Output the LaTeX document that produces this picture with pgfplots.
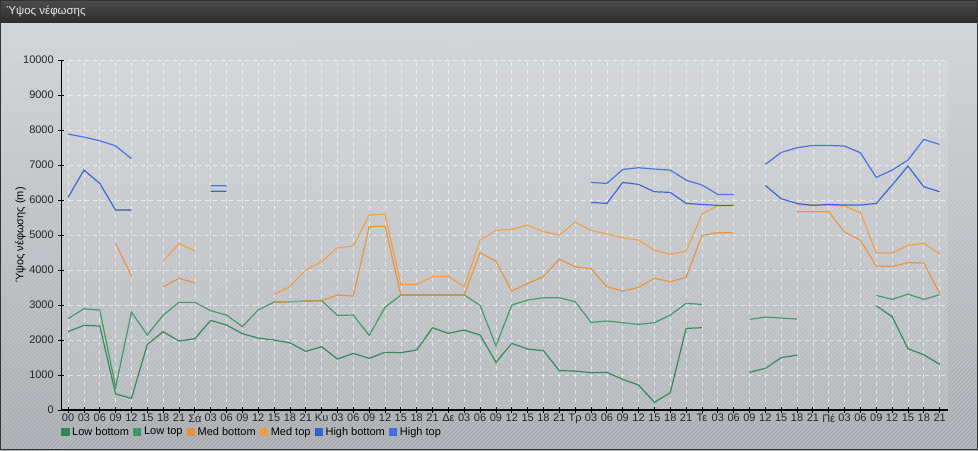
\documentclass[border=0pt]{standalone}
\usepackage{fontspec}
\setmainfont{Liberation Sans}
\usepackage{pgfplots}
\pgfplotsset{compat=1.18}
\usepackage{pgfplotstable}
\usetikzlibrary{patterns}

\definecolor{lowb}{RGB}{30,130,70}
\definecolor{lowt}{RGB}{45,150,90}
\definecolor{medb}{RGB}{240,140,40}
\definecolor{medt}{RGB}{247,152,52}
\definecolor{highb}{RGB}{35,85,215}
\definecolor{hight}{RGB}{50,100,235}
\definecolor{bgtop}{RGB}{208,211,215}
\definecolor{bgbot}{RGB}{168,172,177}

% cloud heights, one row per 3 h step (nan = no layer)
\pgfplotstableread{
i lb lt mb mt hb ht
0 2240 2610 nan nan 6076 7886
1 2420 2895 nan nan 6857 7800
2 2400 2857 nan nan 6476 7695
3 460 650 4762 5714 5714 7550
4 333 2800 3829 5714 5714 7180
5 1876 2143 nan nan nan nan
6 2238 2714 3524 4250 nan nan
7 1971 3076 3762 4760 nan nan
8 2038 3076 3629 4540 nan nan
9 2562 2838 nan nan 6250 6410
10 2428 2714 nan nan 6250 6410
11 2181 2381 nan nan nan nan
12 2057 2860 nan nan nan nan
13 2000 3086 3086 3305 nan nan
14 1920 3095 3095 3524 nan nan
15 1676 3114 3114 4000 nan nan
16 1810 3124 3124 4238 nan nan
17 1457 2705 3286 4638 nan nan
18 1619 2714 3257 4686 nan nan
19 1476 2133 5238 5571 nan nan
20 1648 2933 5257 5600 nan nan
21 1638 3286 3286 3590 nan nan
22 1714 3286 3286 3590 nan nan
23 2352 3286 3286 3810 nan nan
24 2190 3286 3286 3819 nan nan
25 2286 3286 3286 3524 nan nan
26 2143 2990 4495 4857 nan nan
27 1365 1835 4250 5133 nan nan
28 1905 3000 3400 5162 nan nan
29 1743 3143 3619 5286 nan nan
30 1695 3210 3810 5095 nan nan
31 1124 3210 4314 5000 nan nan
32 1114 3095 4095 5371 nan nan
33 1067 2505 4038 5133 5933 6505
34 1076 2543 3524 5029 5905 6476
35 876 2495 3400 4924 6505 6876
36 714 2448 3505 4857 6448 6924
37 219 2495 3762 4571 6238 6886
38 495 2714 3667 4448 6219 6857
39 2333 3048 3790 4543 5905 6571
40 2352 3019 4990 5600 5876 6429
41 nan nan 5067 5838 5848 6162
42 nan nan 5067 5848 5848 6162
43 1076 2590 nan nan nan nan
44 1190 2657 nan nan 6419 7019
45 1495 2629 nan nan 6038 7362
46 1571 2600 5667 5857 5905 7495
47 nan nan 5667 5857 5848 7562
48 nan nan 5667 5857 5876 7562
49 nan nan 5086 5829 5857 7543
50 nan nan 4857 5638 5857 7352
51 2981 3276 4114 4495 5905 6648
52 2667 3162 4105 4486 6429 6857
53 1752 3314 4210 4705 6971 7143
54 1581 3162 4200 4771 6381 7733
55 1305 3295 3333 4457 6238 7590
}\clouds

\begin{document}
\begin{tikzpicture}[x=0.75pt,y=0.75pt]
% panel
\shade[top color=bgtop, bottom color=bgbot] (0,0) rectangle (978,428);
\fill[pattern=north east lines, pattern color=white, opacity=0.25] (0,0) rectangle (978,428);
% title bar
\shade[top color=black!70, bottom color=black!82] (0,428) rectangle (978,450);
\node[anchor=west, text=white!92!black, font=\fontsize{8.6}{11}\selectfont, inner sep=0pt] at (6,439) {Ύψος νέφωσης};

\begin{axis}[
    at={(45.75pt,30pt)}, anchor=south west,
    scale only axis, width=665.25pt, height=262.5pt,
    xmin=-0.44, xmax=55.52, ymin=0, ymax=10000,
    axis lines=left,
    axis line style={-, black, line width=0.8pt},
    xtick={0,...,55},
    xticklabels={00,03,06,09,12,15,18,21,Σά,03,06,09,12,15,18,21,Κυ,03,06,09,12,15,18,21,Δε,03,06,09,12,15,18,21,Τρ,03,06,09,12,15,18,21,Τε,03,06,09,12,15,18,21,Πέ,03,06,09,12,15,18,21},
    ytick={0,1000,...,10000},
    scaled y ticks=false,
    tick align=center, major tick length=4pt,
    tick style={black, line width=0.6pt},
    grid=major,
    major grid style={white, opacity=0.6, dash pattern=on 3pt off 3pt, line width=0.5pt},
    ticklabel style={font=\fontsize{8.25}{9}\selectfont, text=black!85},
    xticklabel style={inner sep=1pt},
    yticklabel style={/pgf/number format/1000 sep={}, /pgf/number format/assume math mode=true},
    ylabel={Ύψος νέφωσης (m)},
    ylabel style={font=\fontsize{8.25}{9}\selectfont, at={(axis description cs:-0.046,0.5)}, anchor=center},
    unbounded coords=jump,
    axis background/.style={fill=white, fill opacity=0.12},
    every axis plot/.append style={line width=0.9pt, opacity=0.85, mark=none},
    legend style={font=\fontsize{8.25}{9}\selectfont, draw=none, fill=none,
        legend columns=-1, at={(axis description cs:0.0,-0.063)}, anchor=west,
        inner sep=0pt, /tikz/every even column/.append style={column sep=1.2pt}},
    legend cell align=left,
    legend image code/.code={\fill[#1] (0pt,-2.6pt) rectangle (5.2pt,2.6pt);},
]
\addplot[color=lowb] table[x=i, y=lb] {\clouds};
\addplot[color=lowt] table[x=i, y=lt] {\clouds};
\addplot[color=medb] table[x=i, y=mb] {\clouds};
\addplot[color=medt] table[x=i, y=mt] {\clouds};
\addplot[color=highb] table[x=i, y=hb] {\clouds};
\addplot[color=hight] table[x=i, y=ht] {\clouds};
\legend{Low bottom, Low top, Med bottom, Med top, High bottom, High top}
\end{axis}
\draw[black!80, line width=0.75pt] (0.375,0.375) rectangle (977.625,449.625);
\end{tikzpicture}
\end{document}
